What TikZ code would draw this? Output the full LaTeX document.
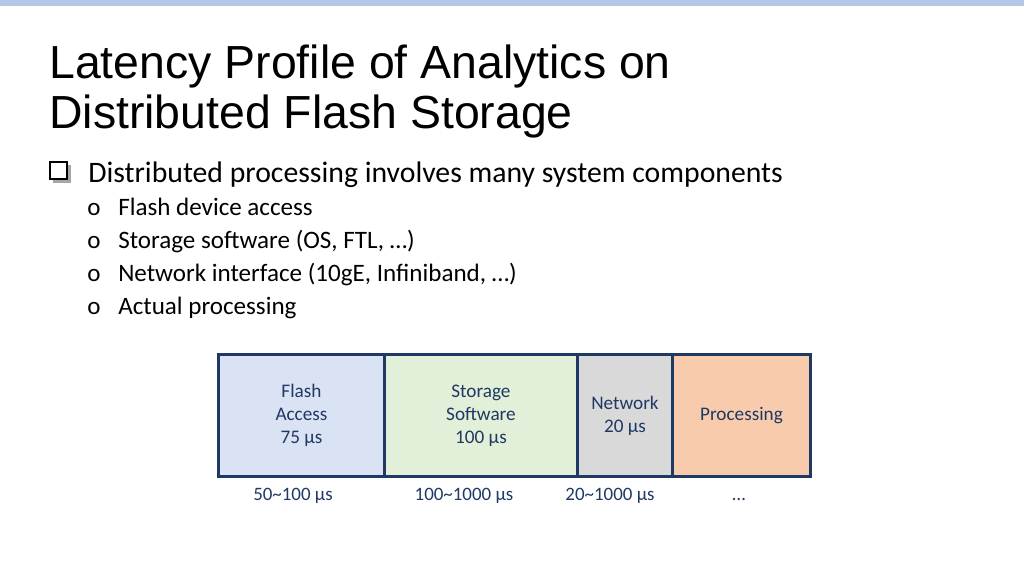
\documentclass[tikz,border=0pt]{standalone}
\usepackage{fontspec}
\setmainfont{Carlito}
\newfontfamily\titlefont{Liberation Sans}
\definecolor{topbar}{RGB}{180,199,231}
\definecolor{navy}{RGB}{31,56,100}
\definecolor{txtnavy}{RGB}{31,56,100}
\definecolor{fblue}{RGB}{218,227,243}
\definecolor{fgreen}{RGB}{226,240,217}
\definecolor{fgray}{RGB}{217,217,217}
\definecolor{forange}{RGB}{248,203,173}
\begin{document}
\begin{tikzpicture}[x=0.75pt,y=-0.75pt,
  seg/.style={draw=navy,line width=2.2pt,anchor=north west,inner sep=0pt,align=center,font=\fontsize{14.4}{17.2}\selectfont,text=txtnavy},
  sub/.style={anchor=base west,inner sep=0pt,font=\fontsize{18.8}{22}\selectfont},
  lab/.style={anchor=base,inner sep=0pt,font=\fontsize{14.2}{17}\selectfont,text=txtnavy}]
\useasboundingbox (0,0) rectangle (1024,576);
\fill[topbar] (0,0) rectangle (1024,6);
\node[anchor=base west,inner sep=0pt,align=left,font=\titlefont\fontsize{34.8}{37.5}\selectfont] (title) at (49,128) {Latency Profile of Analytics on\\Distributed Flash Storage};
% square bullet
\fill[gray!70] (53,165) rectangle (71,183);
\filldraw[fill=white,draw=black,line width=0.8pt] (50,162) rectangle (67,179);
\node[anchor=base west,inner sep=0pt,font=\fontsize{22.3}{26}\selectfont] (b1) at (88,182) {Distributed processing involves many system components};
\foreach \t [count=\i] in {Flash device access,{Storage software (OS, FTL, …)},{Network interface (10gE, Infiniband, …)},Actual processing}{
  \node[sub] (o\i) at (87,182+33*\i) {o};
  \node[sub] (s\i) at (118,182+33*\i) {\t};
}
\node[seg,fill=fblue,minimum width=166*0.75pt,minimum height=122*0.75pt] (fa) at (217,353) {Flash\\Access\\75 µs};
\node[seg,fill=fgreen,minimum width=193*0.75pt,minimum height=122*0.75pt] (ss) at (383,353) {Storage\\Software\\100 µs};
\node[seg,fill=fgray,minimum width=95*0.75pt,minimum height=122*0.75pt] (nw) at (576,353) {Network\\20 µs};
\node[seg,fill=forange,minimum width=138*0.75pt,minimum height=122*0.75pt] (pr) at (671,353) {Processing};
\node[lab] (l1) at (293,500) {50\textasciitilde100 µs};
\node[lab] (l2) at (464,500) {100\textasciitilde1000 µs};
\node[lab] (l3) at (610,500) {20\textasciitilde1000 µs};
\node[lab] (l4) at (739,500) {…};
\end{tikzpicture}
\end{document}
